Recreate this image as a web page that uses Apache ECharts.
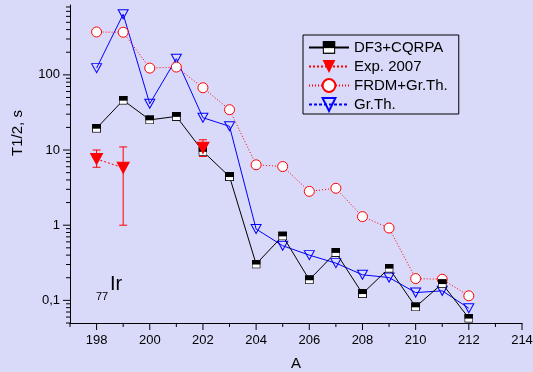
<!DOCTYPE html>
<html>
<head>
<meta charset="utf-8">
<script src="https://cdn.jsdelivr.net/npm/echarts@6/dist/echarts.min.js"></script>
<style>
html,body{margin:0;padding:0;background:#d9d9f9;}
#c{width:533px;height:372px;}
</style>
</head>
<body>
<div id="c"></div>
<script>
// ---- data ----
const massNumbers = [198,199,200,201,202,203,204,205,206,207,208,209,210,211,212];
const df3cqrpa = [19.5,46,25.2,28,9.6,4.43,0.304,0.72,0.188,0.434,0.123,0.268,0.082,0.167,0.058];
const frdmGrTh = [372,369,123,127,67.4,34.4,6.36,6.03,2.82,3.1,1.3,0.917,0.195,0.191,0.115];
const grTh = [123,640,41.3,164,26.9,20.7,0.889,0.533,0.40,0.313,0.219,0.201,0.127,0.134,0.0787];
const expA = [198,199,202];
const expValue = [7.6,5.8,10.7];
const expLow = [5.9,1.0,8.2];
const expHigh = [10,11,13.7];
const xTickLabels = [198,200,202,204,206,208,210,212,214];
const yTickLabels = [0.1,1,10,100];

const X_MIN = 197, X_MAX = 214, Y_MIN = 0.05, Y_MAX = 850;
const FONT = 'Liberation Sans, Arial, sans-serif';
const BG = '#d9d9f9';

// axis tick marks (major/minor) built from axis ranges
const tickData = [];
for (let e = -2; e <= 2; e++) {
  for (let k = 1; k <= 9; k++) {
    const v = k * Math.pow(10, e);
    if (v >= Y_MIN * 0.999 && v <= Y_MAX) tickData.push([X_MIN, v, k === 1 ? 0 : 1]);
  }
}
for (let a = X_MIN; a <= X_MAX; a++) {
  tickData.push([a, Y_MIN, a % 2 === 0 ? 2 : 3]);
}

const squareSvg = '<svg xmlns="http://www.w3.org/2000/svg" width="20" height="20" viewBox="0 0 20 20">' +
  '<rect x="1" y="1" width="18" height="18" fill="#ffffff" stroke="#000000" stroke-width="2"/>' +
  '<rect x="0" y="0" width="20" height="11" fill="#000000"/></svg>';
const squareSymbol = 'image://data:image/svg+xml;charset=utf-8,' + encodeURIComponent(squareSvg);

const pairs = (xs, ys) => xs.map((x, i) => [x, ys[i]]);
// exp line from arrays with a gap between 199 and 202
const expLineData = [];
expA.forEach((a, i) => {
  if (i > 0 && a - expA[i-1] > 1) expLineData.push([expA[i-1] + 1, '-']);
  expLineData.push([a, expValue[i]]);
});

const chart = echarts.init(document.getElementById('c'), null, {renderer: 'canvas'});
chart.setOption({
  backgroundColor: BG,
  animation: false,
  grid: {left: 70, right: 11, top: 5, bottom: 49, containLabel: false, outerBoundsMode: 'none'},
  xAxis: {
    type: 'value', min: X_MIN, max: X_MAX, interval: 1,
    name: 'A', nameLocation: 'middle', nameGap: 33,
    nameTextStyle: {fontFamily: FONT, fontSize: 15, color: '#000'},
    axisLine: {lineStyle: {color: '#000', width: 1}},
    axisTick: {show: false},
    splitLine: {show: false},
    axisLabel: {
      fontFamily: FONT, fontSize: 13, color: '#000', margin: 11,
      formatter: (v) => xTickLabels.indexOf(v) >= 0 ? String(v) : ''
    }
  },
  yAxis: {
    type: 'log', logBase: 10, min: Y_MIN, max: Y_MAX,
    axisLine: {show: true, lineStyle: {color: '#000', width: 1}},
    axisTick: {show: false},
    splitLine: {show: false},
    minorTick: {show: false},
    axisLabel: {
      fontFamily: FONT, fontSize: 13, color: '#000', margin: 10,
      formatter: (v) => {
        const hit = yTickLabels.find((t) => Math.abs(t - v) / t < 1e-6);
        if (hit === undefined) return '';
        return String(hit).replace('.', ',');
      }
    }
  },
  legend: {
    orient: 'vertical', left: 303, top: 35,
    padding: [5, 11, 2, 5],
    itemWidth: 40, itemHeight: 16, itemGap: 4,
    borderColor: '#000', borderWidth: 1, backgroundColor: BG,
    textStyle: {fontFamily: FONT, fontSize: 15, color: '#000'},
    data: [
      {name: 'DF3+CQRPA'},
      {name: 'Exp. 2007'},
      {name: 'FRDM+Gr.Th.'},
      {name: 'Gr.Th.', lineStyle: {type: [3, 2]}}
    ]
  },
  graphic: [
    {type: 'text', x: 18, y: 133, rotation: Math.PI / 2,
     style: {text: 'T1/2, s', font: '15px ' + FONT, fill: '#000', align: 'center', verticalAlign: 'middle'}},
    {type: 'text', left: 110, top: 274, style: {text: 'Ir', font: '20px ' + FONT, fill: '#000'}},
    {type: 'text', left: 96, top: 291, style: {text: '77', font: '11px ' + FONT, fill: '#000'}}
  ],
  series: [
    {
      name: 'Gr.Th.', type: 'line', data: pairs(massNumbers, grTh),
      symbol: 'triangle', symbolRotate: 180, symbolSize: [10, 9],
      lineStyle: {color: '#0000ff', width: 1},
      itemStyle: {color: 'rgba(0,0,0,0)', borderColor: '#0000ff', borderWidth: 1},
      z: 3
    },
    {
      name: 'FRDM+Gr.Th.', type: 'line', data: pairs(massNumbers, frdmGrTh),
      symbol: 'circle', symbolSize: 10,
      lineStyle: {color: '#ff0000', width: 1, type: [1, 2]},
      itemStyle: {color: '#ffffff', borderColor: '#ff0000', borderWidth: 1},
      z: 3
    },
    {
      name: 'DF3+CQRPA', type: 'line', data: pairs(massNumbers, df3cqrpa),
      symbol: squareSymbol, symbolSize: 9,
      lineStyle: {color: '#000000', width: 1},
      itemStyle: {color: '#000000'},
      z: 4
    },
    {
      name: 'Exp. 2007', type: 'line', data: expLineData,
      symbol: 'triangle', symbolRotate: 180, symbolSize: [12, 11],
      lineStyle: {color: '#ff0000', width: 1, type: [2, 2]},
      itemStyle: {color: '#ff0000', borderColor: '#ff0000'},
      z: 5
    },
    {
      name: 'expErr', type: 'custom', z: 4, clip: false,
      data: expA.map((a, i) => [a, expLow[i], expHigh[i]]),
      renderItem: (params, api) => {
        const lo = api.coord([api.value(0), api.value(1)]);
        const hi = api.coord([api.value(0), api.value(2)]);
        const w = 4;
        const st = {stroke: '#ff0000', lineWidth: 1};
        return {type: 'group', children: [
          {type: 'line', shape: {x1: lo[0], y1: lo[1], x2: hi[0], y2: hi[1]}, style: st},
          {type: 'line', shape: {x1: lo[0]-w, y1: lo[1], x2: lo[0]+w, y2: lo[1]}, style: st},
          {type: 'line', shape: {x1: hi[0]-w, y1: hi[1], x2: hi[0]+w, y2: hi[1]}, style: st}
        ]};
      }
    },
    {
      name: 'ticks', type: 'custom', z: 2, clip: false, silent: true,
      data: tickData,
      renderItem: (params, api) => {
        const p = api.coord([api.value(0), api.value(1)]);
        const kind = api.value(2);
        const st = {stroke: '#000', lineWidth: 1};
        let s;
        if (kind === 0) s = {x1: p[0]-7, y1: p[1], x2: p[0], y2: p[1]};
        else if (kind === 1) s = {x1: p[0]-4, y1: p[1], x2: p[0], y2: p[1]};
        else if (kind === 2) s = {x1: p[0], y1: p[1], x2: p[0], y2: p[1]+7};
        else s = {x1: p[0], y1: p[1], x2: p[0], y2: p[1]+4};
        return {type: 'line', shape: s, style: st};
      }
    }
  ]
});
</script>
</body>
</html>
